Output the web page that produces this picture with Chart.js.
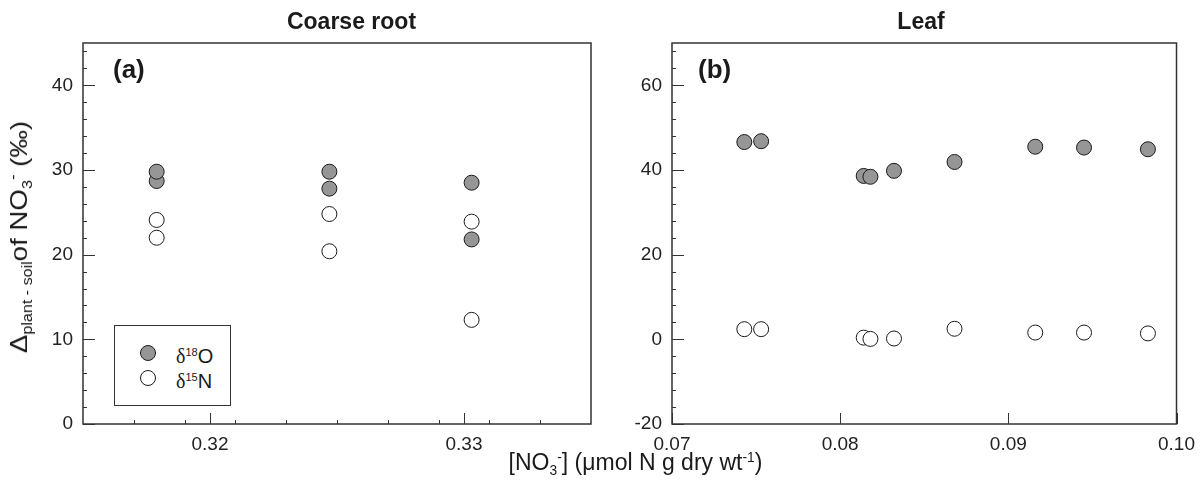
<!DOCTYPE html>
<html>
<head>
<meta charset="utf-8">
<script src="https://cdn.jsdelivr.net/npm/chart.js@4.4.1/dist/chart.umd.min.js"></script>
<style>
  body { margin: 0; background: #fff; }
  #wrap { position: relative; width: 1204px; height: 492px; font-family: "Liberation Sans", Arial, sans-serif; color: #1a1a1a; }
  canvas { position: absolute; top: 0; }
  .txt { position: absolute; white-space: nowrap; line-height: 1; }
  .title { font-weight: bold; font-size: 23px; top: 9.5px; transform: translateX(-50%); }
  .tag { font-weight: bold; font-size: 26px; top: 56px; }
  .sub { font-size: 0.6em; position: relative; top: 0.35em; }
  .sup { font-size: 0.6em; position: relative; top: -0.6em; }
  .greek { font-family: "Liberation Serif", serif; }
  #legend { position: absolute; left: 113.5px; top: 325px; width: 117px; height: 81px; box-sizing: border-box; border: 1px solid #333; background: #fff; }
  .dot { position: absolute; width: 16px; height: 16px; box-sizing: border-box; border: 1px solid #1a1a1a; border-radius: 50%; }
</style>
</head>
<body>
<div id="wrap">
  <canvas id="root" width="600" height="492" style="left:0"></canvas>
  <canvas id="leaf" width="604" height="492" style="left:600px"></canvas>

  <div class="txt title" style="left:351.5px">Coarse root</div>
  <div class="txt title" style="left:921px">Leaf</div>
  <div class="txt tag" style="left:113px">(a)</div>
  <div class="txt tag" style="left:698px">(b)</div>

  <div id="legend"></div>
  <div class="dot" id="dotO" style="left:140.3px; top:345.3px"></div>
  <div class="dot" id="dotN" style="left:140.3px; top:370.3px"></div>
  <div class="txt" style="left:176px; top:345.8px; font-size:20px"><span class="greek">δ</span><span class="sup" style="font-size:11px">18</span>O</div>
  <div class="txt" style="left:176px; top:370.8px; font-size:20px"><span class="greek">δ</span><span class="sup" style="font-size:11px">15</span>N</div>

  <div class="txt" style="left:635.5px; top:451px; font-size:23px; transform: translateX(-50%)">[NO<span class="sub">3</span><span class="sup">-</span>] (μmol N g dry wt<span class="sup">-1</span>)</div>
  <div class="txt" style="left:19px; top:237px; font-size:24px; transform: translate(-50%, -50%) rotate(-90deg) scaleX(1.15)">Δ<span class="sub" style="font-size:14px">plant - soil</span>of NO<span class="sub">3</span><span class="sup">-</span> (‰)</div>
</div>

<script>
const GRAY = "#969696";
const EDGE = "#1a1a1a";

// coarse root
const rootX = [0.3179, 0.3179, 0.3247, 0.3247, 0.3303, 0.3303];
const rootO18 = [28.7, 29.8, 27.8, 29.8, 21.8, 28.5];
const rootN15 = [24.1, 22.0, 24.8, 20.4, 23.9, 12.3];
const rootXTicks = [0.32, 0.33];
const rootYTicks = [0, 10, 20, 30, 40];

// leaf
const leafX = [0.0743, 0.0753, 0.0814, 0.0818, 0.0832, 0.0868, 0.0916, 0.0945, 0.0983];
const leafO18 = [46.6, 46.8, 38.6, 38.4, 39.8, 41.9, 45.5, 45.3, 44.9];
const leafN15 = [2.4, 2.4, 0.4, 0.1, 0.2, 2.5, 1.6, 1.6, 1.4];
const leafXTicks = [0.07, 0.08, 0.09, 0.10];
const leafYTicks = [-20, 0, 20, 40, 60];

document.getElementById("dotO").style.background = GRAY;
document.getElementById("dotN").style.background = "#fff";

function pts(xs, ys) {
  return xs.map((x, i) => ({ x, y: ys[i] }));
}

// inward tick marks + frame box
const tickMarks = {
  id: "tickMarks",
  beforeDatasetsDraw(chart, args, opts) {
    const { ctx, chartArea: a } = chart;
    const x = chart.scales.x, y = chart.scales.y;
    const r = v => Math.round(v) + 0.5;
    ctx.save();
    ctx.strokeStyle = "#333";
    ctx.lineWidth = 1;
    ctx.beginPath();
    const seg = (x1, y1, x2, y2) => { ctx.moveTo(x1, y1); ctx.lineTo(x2, y2); };
    y.ticks.forEach(t => { const p = r(y.getPixelForValue(t.value)); seg(a.left, p, a.left + 12, p); });
    x.ticks.forEach(t => { const p = r(x.getPixelForValue(t.value)); seg(p, a.bottom, p, a.bottom - 11); });
    if (opts.yMinor) {
      for (let i = 1; y.min + i * opts.yMinor < y.max - 1e-9; i++) {
        const p = r(y.getPixelForValue(y.min + i * opts.yMinor));
        seg(a.left, p, a.left + 4, p);
      }
    }
    if (opts.xMinor) {
      for (let i = 1; x.min + i * opts.xMinor < x.max - 1e-9; i++) {
        const p = r(x.getPixelForValue(x.min + i * opts.xMinor));
        seg(p, a.bottom, p, a.bottom - 4);
      }
    }
    ctx.stroke();
    ctx.lineWidth = 1.5;
    ctx.strokeRect(a.left, a.top, a.right - a.left, a.bottom - a.top);
    ctx.restore();
  }
};

const tickFont = { family: "'Liberation Sans', Arial, sans-serif", size: 19 };

function makeChart(id, c) {
  return new Chart(document.getElementById(id), {
    type: "scatter",
    data: {
      datasets: [
        { label: "δ15N", data: pts(c.xs, c.n15), backgroundColor: "#fff", borderColor: EDGE, borderWidth: 1, pointRadius: 7.5 },
        { label: "δ18O", data: pts(c.xs, c.o18), backgroundColor: GRAY, borderColor: EDGE, borderWidth: 1, pointRadius: 7.5 }
      ]
    },
    options: {
      responsive: false,
      animation: false,
      events: [],
      layout: { padding: c.padding },
      plugins: {
        legend: { display: false },
        tooltip: { enabled: false },
        tickMarks: { yMinor: c.yMinor, xMinor: c.xMinor }
      },
      scales: {
        x: {
          type: "linear",
          min: c.xMin,
          max: c.xMax,
          afterBuildTicks: s => { s.ticks = c.xTicks.map(v => ({ value: v })); },
          afterFit: s => { s.height = 68; },
          grid: { display: false, drawTicks: false },
          border: { display: false },
          ticks: { padding: 9, font: tickFont, color: "#222", maxRotation: 0, autoSkip: false, callback: v => v.toFixed(2) }
        },
        y: {
          min: c.yMin,
          max: c.yMax,
          afterBuildTicks: s => { s.ticks = c.yTicks.map(v => ({ value: v })); },
          afterFit: s => { s.width = c.yWidth; },
          grid: { display: false, drawTicks: false },
          border: { display: false },
          ticks: { padding: 10, font: tickFont, color: "#222", callback: v => String(v) }
        }
      }
    },
    plugins: [tickMarks]
  });
}

makeChart("root", {
  xs: rootX, o18: rootO18, n15: rootN15,
  xMin: 0.315, xMax: 0.335, xTicks: rootXTicks, xMinor: 0.002,
  yMin: 0, yMax: 45, yTicks: rootYTicks, yMinor: 2,
  yWidth: 83,
  padding: { left: 0, right: 9, top: 43, bottom: 0 }
});

makeChart("leaf", {
  xs: leafX, o18: leafO18, n15: leafN15,
  xMin: 0.07, xMax: 0.10, xTicks: leafXTicks, xMinor: 0,
  yMin: -20, yMax: 70, yTicks: leafYTicks, yMinor: 4,
  yWidth: 72,
  padding: { left: 0, right: 25, top: 43, bottom: 0 }
});
</script>
</body>
</html>
